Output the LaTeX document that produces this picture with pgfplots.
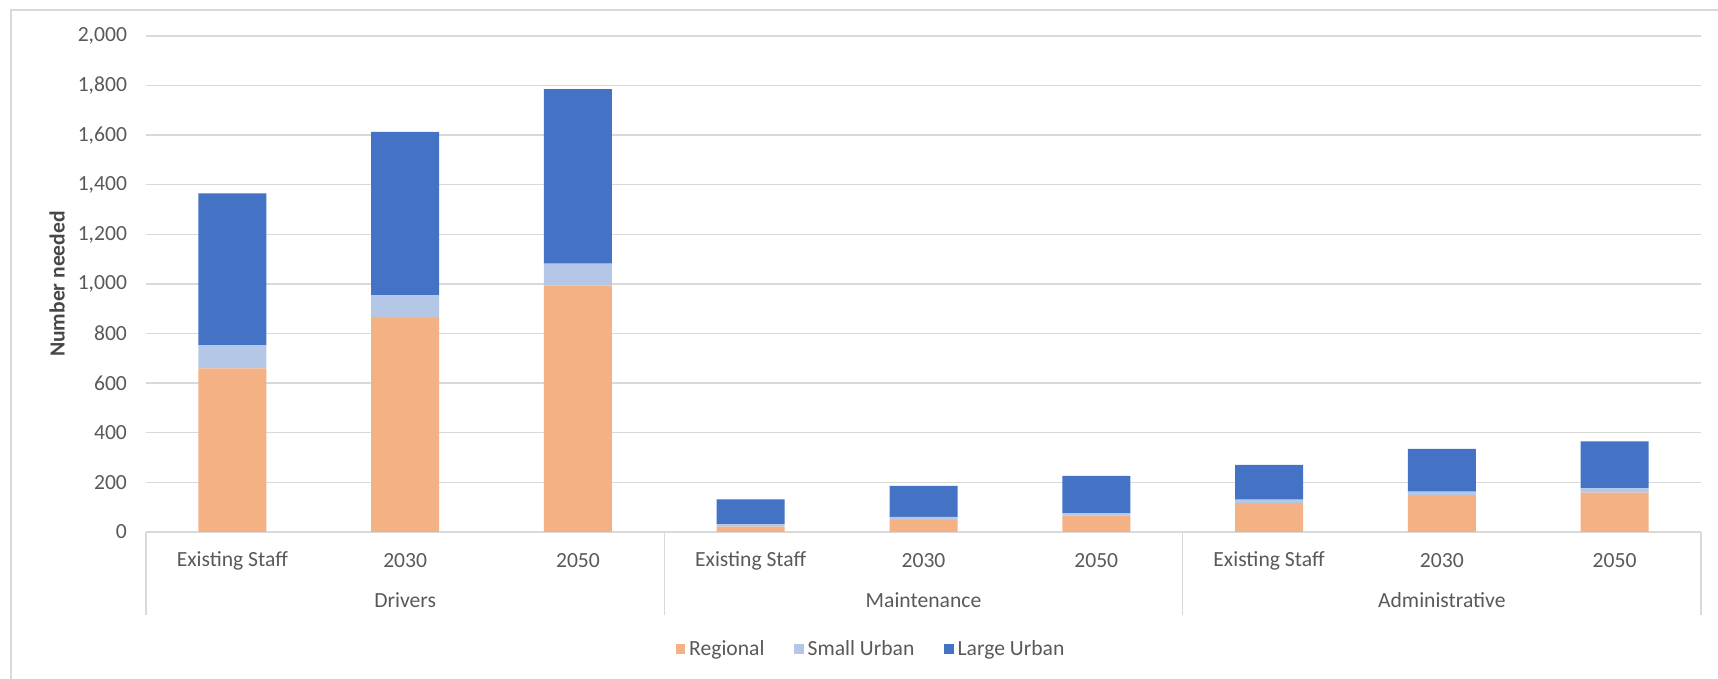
\documentclass[border=0pt]{standalone}
\usepackage{pgfplots}
\pgfplotsset{compat=1.18}
\usepackage{fontspec}
\setmainfont{Carlito}
\definecolor{cReg}{HTML}{F4B183}
\definecolor{cSU}{HTML}{B4C7E7}
\definecolor{cLU}{HTML}{4472C4}
\definecolor{gridc}{HTML}{D9D9D9}
\definecolor{txt}{HTML}{595959}
\begin{document}
\begin{tikzpicture}
\useasboundingbox (0,0) rectangle (859pt,339.5pt);
\draw[gridc, line width=0.8pt] (5.5pt,-5pt) -- (5.5pt,334.5pt) -- (870pt,334.5pt);
\begin{axis}[
  at={(73pt,73.5pt)}, anchor=south west,
  scale only axis, width=777.5pt, height=248pt,
  ybar stacked, bar width=34pt,
  xmin=-0.5, xmax=8.5, ymin=0, ymax=2000,
  ytick={0,200,...,2000},
  xtick={0,...,8},
  xticklabels={Existing Staff,2030,2050,Existing Staff,2030,2050,Existing Staff,2030,2050},
  major tick length=0pt,
  axis line style={draw=none},
  ymajorgrids, grid style={gridc, line width=0.7pt},
  tick label style={font=\fontsize{10.8}{12}\selectfont, text=txt},
  /pgf/number format/assume math mode=true,
  /pgf/number format/1000 sep={,},
  yticklabel style={anchor=east, xshift=-6pt},
  xticklabel style={anchor=center, yshift=-14.5pt},
  ylabel={Number needed},
  ylabel style={font=\bfseries\fontsize{10.8}{12}\selectfont, text=txt!80!black, at={(axis description cs:-0.0572,0.5)}, anchor=center},
  legend columns=3,
  legend style={at={(0.467,-0.236)}, anchor=center, draw=none, fill=none,
    font=\fontsize{10.8}{12}\selectfont, text=txt,
    /tikz/every even column/.append style={column sep=13pt}},
  legend image code/.code={\fill[#1] (0pt,-2.3pt) rectangle (4.6pt,2.3pt);},
  clip=false,
]
\addplot[fill=cReg, draw=none] coordinates {(0,660) (1,867) (2,993) (3,22) (4,48) (5,66) (6,116) (7,149) (8,159)};
\addplot[fill=cSU, draw=none] coordinates {(0,92) (1,87) (2,89) (3,9) (4,13) (5,9) (6,15) (7,14) (8,17)};
\addplot[fill=cLU, draw=none] coordinates {(0,613) (1,659) (2,704) (3,101) (4,125) (5,151) (6,140) (7,172) (8,189)};
\legend{Regional, Small Urban, Large Urban}
\draw[gridc, line width=0.7pt] (axis cs:-0.5,0) -- ([yshift=-41.5pt]axis cs:-0.5,0);
\draw[gridc, line width=0.7pt] (axis cs:2.5,0) -- ([yshift=-41.5pt]axis cs:2.5,0);
\draw[gridc, line width=0.7pt] (axis cs:5.5,0) -- ([yshift=-41.5pt]axis cs:5.5,0);
\draw[gridc, line width=0.7pt] (axis cs:8.5,0) -- ([yshift=-41.5pt]axis cs:8.5,0);
\node[font=\fontsize{10.8}{12}\selectfont, text=txt] at ([yshift=-34pt]axis cs:1,0) {Drivers};
\node[font=\fontsize{10.8}{12}\selectfont, text=txt] at ([yshift=-34pt]axis cs:4,0) {Maintenance};
\node[font=\fontsize{10.8}{12}\selectfont, text=txt] at ([yshift=-34pt]axis cs:7,0) {Administrative};
\end{axis}
\end{tikzpicture}
\end{document}
